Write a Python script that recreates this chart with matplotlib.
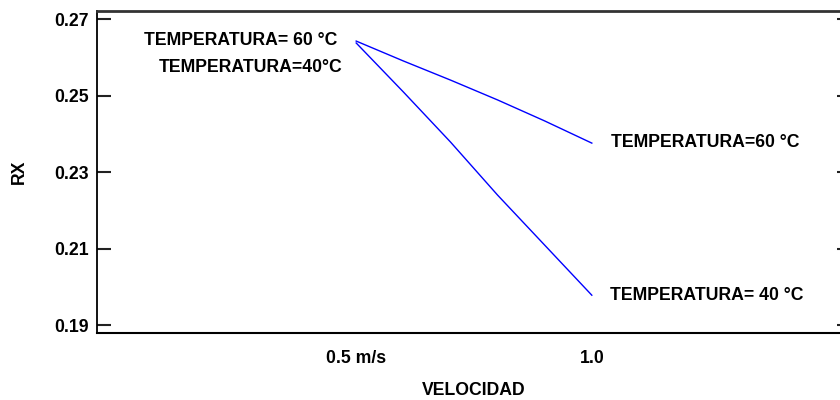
import matplotlib
matplotlib.use("Agg")
import matplotlib.pyplot as plt

plt.rcParams['font.family'] = ['Liberation Sans', 'DejaVu Sans']
plt.rcParams['font.weight'] = 'bold'

# datos
velocidad = [0.5, 0.6, 0.7, 0.8, 0.9, 1.0]
rx_60 = [0.2643, 0.2591, 0.2541, 0.2489, 0.2434, 0.2376]
rx_40 = [0.2638, 0.2510, 0.2379, 0.2240, 0.2109, 0.1978]

x_ticks = [0.5, 1.0]
x_labels = ["0.5 m/s", "1.0"]
y_ticks = [0.19, 0.21, 0.23, 0.25, 0.27]
y_labels = ["0.19", "0.21", "0.23", "0.25", "0.27"]

fs = 12.7

fig = plt.figure(figsize=(8.4, 4), dpi=100)
ax = fig.add_axes([97 / 840, 1 - 333.3 / 400, (851 - 97) / 840, (333.3 - 11) / 400])

ax.plot(velocidad, rx_60, color="#0000ff", linewidth=1.0)
ax.plot(velocidad, rx_40, color="#0000ff", linewidth=1.0)

# etiquetas de las curvas
ax.annotate("TEMPERATURA= 60 °C", xy=(velocidad[0], rx_60[0]), xytext=(-19, 1),
            textcoords="offset pixels", ha="right", va="center", fontsize=fs, fontweight="bold")
ax.annotate("TEMPERATURA=40°C", xy=(velocidad[0], rx_40[0]), xytext=(-14, -24.5),
            textcoords="offset pixels", ha="right", va="center", fontsize=fs, fontweight="bold")
ax.annotate("TEMPERATURA=60 °C", xy=(velocidad[-1], rx_60[-1]), xytext=(19, 1),
            textcoords="offset pixels", ha="left", va="center", fontsize=fs, fontweight="bold")
ax.annotate("TEMPERATURA= 40 °C", xy=(velocidad[-1], rx_40[-1]), xytext=(18, 0),
            textcoords="offset pixels", ha="left", va="center", fontsize=fs, fontweight="bold")

ax.set_xlim(-0.05, 1.55)
ax.set_ylim(0.18783, 0.27217)
ax.set_xticks(x_ticks)
ax.set_xticklabels(x_labels, fontsize=fs, fontweight="bold")
ax.set_yticks(y_ticks)
ax.set_yticklabels(y_labels, fontsize=fs, fontweight="bold")
ax.tick_params(axis="x", length=0, pad=12)
ax.tick_params(axis="y", direction="in", length=10, width=1.5, color="#222222",
               right=True, pad=6)

ax.spines["top"].set_linewidth(2.0)
ax.spines["top"].set_color("#333333")
ax.spines["left"].set_linewidth(1.3)
ax.spines["bottom"].set_linewidth(1.5)

ax.set_xlabel("VELOCIDAD", fontsize=fs, fontweight="bold", labelpad=11)
ax.set_ylabel("RX", fontsize=fs, fontweight="bold", labelpad=19)

fig.savefig("out.png", dpi=100)
